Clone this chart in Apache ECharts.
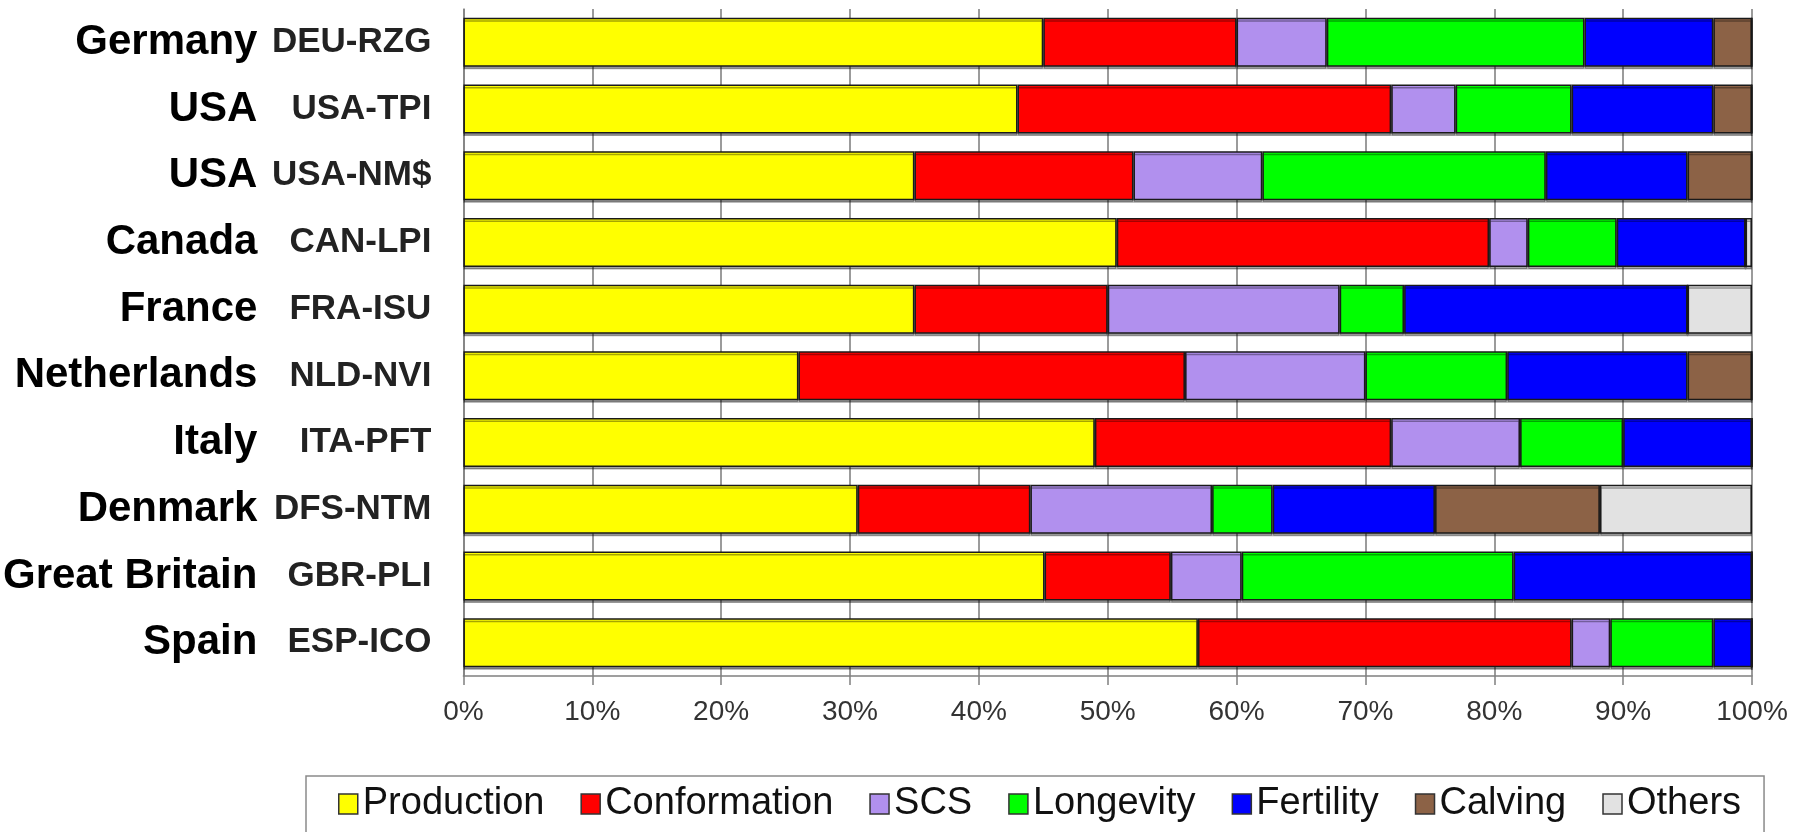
<!DOCTYPE html>
<html>
<head>
<meta charset="utf-8">
<script src="https://cdn.jsdelivr.net/npm/echarts@6/dist/echarts.min.js"></script>
<style>
  html, body { margin: 0; padding: 0; background: #ffffff; }
  #chart { width: 1810px; height: 832px; }
</style>
</head>
<body>
<div id="chart"></div>
<script>
// Categories (top to bottom)
const countries = ['Germany', 'USA', 'USA', 'Canada', 'France', 'Netherlands', 'Italy', 'Denmark', 'Great Britain', 'Spain'];
const codes = ['DEU-RZG', 'USA-TPI', 'USA-NM$', 'CAN-LPI', 'FRA-ISU', 'NLD-NVI', 'ITA-PFT', 'DFS-NTM', 'GBR-PLI', 'ESP-ICO'];

// Series values (% of total index weight)
const production   = [45, 43, 35, 50.7, 35, 26, 49, 30.6, 45.1, 57];
const conformation = [15, 29, 17, 28.9, 15, 30, 23, 13.4, 9.8, 29];
const scs          = [7, 5, 10, 3.0, 18, 14, 10, 14.1, 5.5, 3];
const longevity    = [20, 9, 22, 6.9, 5, 11, 8, 4.7, 21.1, 8];
const fertility    = [10, 11, 11, 10.0, 22, 14, 10, 12.6, 18.5, 3];
const calving      = [3, 3, 5, 0, 0, 5, 0, 12.8, 0, 0];
const others       = [0, 0, 0, 0.5, 5, 0, 0, 11.8, 0, 0];

const seriesNames = ['Production', 'Conformation', 'SCS', 'Longevity', 'Fertility', 'Calving', 'Others'];
const seriesData = [production, conformation, scs, longevity, fertility, calving, others];
const seriesColors = ['#FFFF00', '#FF0000', '#B190EE', '#00FF00', '#0000FF', '#8C6246', '#E2E2E2'];

const FONT = 'Liberation Sans, Arial, Helvetica, sans-serif';

const chart = echarts.init(document.getElementById('chart'), null, { renderer: 'canvas' });

const series = seriesNames.map((name, i) => ({
  name: name,
  type: 'bar',
  stack: 'total',
  yAxisIndex: 0,
  barWidth: 49,
  data: seriesData[i],
  itemStyle: {
    color: seriesColors[i],
    borderColor: '#1a1a1a',
    borderWidth: 1.5,
    shadowColor: 'rgba(0,0,0,0.35)',
    shadowBlur: 0,
    shadowOffsetY: 2.5
  },
  emphasis: { disabled: true },
  animation: false
}));

chart.setOption({
  backgroundColor: '#ffffff',
  animation: false,
  grid: { left: 461, right: 58, top: 9, bottom: 156, containLabel: false },
  legend: {
    data: seriesNames,
    left: 306,
    top: 776,
    orient: 'horizontal',
    padding: [9, 23, 40, 32],
    borderColor: '#8a8a8a',
    borderWidth: 1.5,
    itemWidth: 19,
    itemHeight: 20,
    itemGap: 36,
    icon: 'rect',
    itemStyle: { borderColor: '#333', borderWidth: 1.5 },
    textStyle: { fontFamily: FONT, fontSize: 38, color: '#111' },
    selectedMode: false
  },
  xAxis: {
    type: 'value',
    min: 0,
    max: 100,
    interval: 10,
    axisLine: { show: true, lineStyle: { color: '#808080', width: 1.5 } },
    axisTick: { show: true, length: 9, lineStyle: { color: '#808080', width: 1.5 } },
    splitLine: { show: true, lineStyle: { color: '#7a7a7a', width: 1.5 } },
    axisLabel: {
      formatter: '{value}%',
      fontFamily: FONT,
      fontSize: 28,
      color: '#333',
      margin: 22
    }
  },
  yAxis: [
    {
      type: 'category',
      inverse: true,
      data: codes,
      position: 'left',
      axisLine: { show: true, lineStyle: { color: '#808080', width: 1.5 } },
      axisTick: { show: false },
      splitLine: { show: false },
      axisLabel: {
        fontFamily: FONT,
        fontSize: 35,
        fontWeight: 'bold',
        color: '#222',
        margin: 32
      }
    },
    {
      type: 'category',
      inverse: true,
      data: countries,
      position: 'left',
      offset: 0,
      axisLine: { show: false },
      axisTick: { show: false },
      splitLine: { show: false },
      axisLabel: {
        fontFamily: FONT,
        fontSize: 42,
        fontWeight: 'bold',
        color: '#000',
        margin: 206,
        padding: [0, 0, 12, 0]
      }
    }
  ],
  series: series
});
</script>
</body>
</html>
